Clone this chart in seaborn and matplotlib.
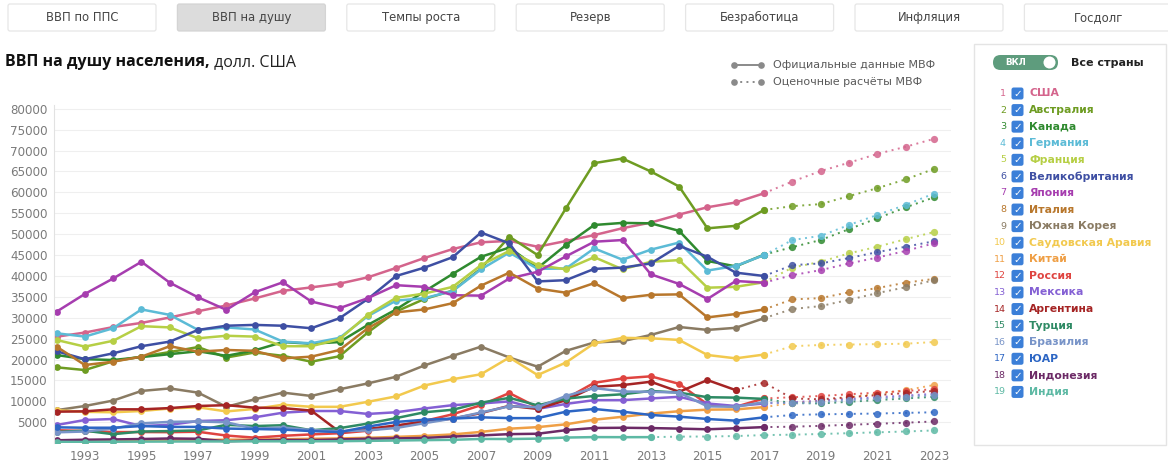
import numpy as np
import pandas as pd
import matplotlib
matplotlib.use("Agg")
import matplotlib.pyplot as plt
import seaborn as sns
from matplotlib.patches import FancyBboxPatch, Rectangle, Circle

# ---------------- data ----------------
years = list(range(1992, 2024))

tabs = ["ВВП по ППС", "ВВП на душу", "Темпы роста", "Резерв", "Безработица", "Инфляция", "Госдолг"]
selected_tab = "ВВП на душу"

countries = ["США", "Австралия", "Канада", "Германия", "Франция", "Великобритания", "Япония",
             "Италия", "Южная Корея", "Саудовская Аравия", "Китай", "Россия", "Мексика",
             "Аргентина", "Турция", "Бразилия", "ЮАР", "Индонезия", "Индия"]

usa = [25470, 26470, 27780, 28780, 30070, 31570, 32950, 34620, 36450, 37270, 38170, 39680, 41930, 44310,
       46440, 48060, 48400, 47000, 48370, 49780, 51430, 52780, 54700, 56440, 57590, 59790,
       62600, 65100, 67100, 69200, 70900, 72800]
australia = [18150, 17500, 19600, 20700, 21800, 23000, 20500, 21700, 20900, 19500, 20800, 26500, 31500,
             34500, 36500, 41800, 49400, 45000, 56200, 67000, 68100, 65000, 61400, 51400, 52000, 55800,
             56700, 57200, 59100, 61000, 63100, 65600]
canada = [21100, 20100, 19900, 20600, 21300, 22000, 20900, 22200, 24200, 23800, 24200, 28300, 32000,
          36300, 40500, 44600, 46800, 41900, 47400, 52200, 52700, 52600, 50800, 43600, 42300, 45100,
          46900, 48600, 51200, 53800, 56400, 58800]
germany = [26300, 25500, 27500, 32000, 30700, 27100, 27700, 27200, 24300, 23900, 25200, 30400, 34100,
           34700, 36400, 41600, 45600, 41700, 41800, 46600, 43900, 46300, 48000, 41300, 42400, 45000,
           48600, 49600, 52200, 54600, 57000, 59700]
france = [24700, 23100, 24500, 28000, 27700, 25100, 25700, 25500, 23200, 23200, 24900, 30700, 34800,
          35800, 37400, 42600, 46000, 42600, 41600, 44500, 41600, 43400, 43800, 37200, 37400, 38500,
          42000, 43400, 45400, 47000, 48800, 50500]
uk = [22000, 20100, 21500, 23200, 24300, 27100, 28100, 28300, 28100, 27500, 29900, 34500, 40000, 42000,
      44500, 50400, 47800, 38700, 39000, 41700, 42000, 43000, 47200, 44600, 40800, 40000,
      42600, 43000, 44300, 45700, 47000, 48300]
japan = [31460, 35700, 39400, 43400, 38400, 34900, 31900, 36100, 38500, 33900, 32300, 34700, 37800, 37400,
         35400, 35300, 39400, 41000, 44700, 48200, 48600, 40400, 38100, 34500, 38800, 38400,
         40200, 41400, 43000, 44400, 46000, 47800]
italy = [23100, 18700, 19500, 20700, 23200, 21900, 22300, 22100, 20300, 20700, 22300, 27500, 31300, 32000,
         33500, 37700, 40800, 37000, 36000, 38300, 34700, 35500, 35600, 30100, 30900, 32000,
         34400, 34700, 36100, 37100, 38400, 39300]
korea = [7900, 8900, 10200, 12500, 13100, 12100, 8700, 10500, 12100, 11300, 12900, 14300, 15900, 18600,
         20900, 23100, 20500, 18300, 22100, 24100, 24400, 25900, 27800, 27100, 27600, 29900,
         32100, 32800, 34300, 35900, 37300, 39000]
saudi = [7900, 7500, 7400, 7700, 8300, 8600, 7600, 8200, 9200, 8700, 8700, 9900, 11200, 13800, 15300,
         16500, 20500, 16300, 19300, 23900, 25200, 25100, 24700, 21100, 20300, 21200,
         23200, 23500, 23600, 23700, 23800, 24200]
china = [370, 380, 470, 610, 710, 780, 830, 870, 960, 1050, 1150, 1290, 1510, 1750, 2100, 2700, 3470,
         3840, 4520, 5610, 6320, 7080, 7650, 8030, 8080, 8640, 9630, 10150, 10950, 11800, 12700, 13900]
russia = [3100, 2930, 2660, 2670, 2640, 2740, 1830, 1330, 1770, 2100, 2380, 2980, 4100, 5320, 6920, 9100,
          12000, 8560, 10670, 14450, 15500, 16000, 14200, 9300, 8700, 10700,
          11000, 11300, 11700, 12100, 12500, 12900]
mexico = [4350, 5550, 5790, 4100, 4400, 5300, 5500, 6190, 7300, 7700, 7700, 7000, 7400, 8300, 9100, 9500,
          10000, 8200, 9400, 10300, 10300, 10700, 11100, 9500, 8900, 9500,
          9800, 10200, 10600, 11000, 11400, 11800]
argentina = [7540, 7620, 8100, 8100, 8400, 8900, 9100, 8500, 8400, 7800, 2700, 3400, 4250, 5100, 5900,
             7200, 8950, 8200, 10300, 13500, 13900, 14700, 12300, 15100, 12700, 14500,
             10700, 10500, 11000, 11500, 12000, 12500]
turkey = [2700, 3000, 2150, 2800, 2900, 3060, 4400, 4100, 4300, 3100, 3600, 4700, 6000, 7400, 8000, 9700,
          10850, 9050, 10670, 11300, 11700, 12500, 12100, 11000, 10900, 10600,
          9600, 9500, 9900, 10300, 10700, 11100]
brazil = [2600, 2800, 3500, 4750, 5100, 5200, 5000, 3500, 3750, 3150, 2850, 3070, 3640, 4790, 5890, 7350,
          8830, 8600, 11300, 13200, 12370, 12300, 12110, 8810, 8710, 9820,
          9500, 9800, 10300, 10700, 11100, 11500]
south_africa = [3800, 3700, 3700, 4100, 3900, 3900, 3500, 3400, 3250, 2900, 2660, 3960, 5080, 5610, 5880,
                6190, 6000, 6000, 7540, 8180, 7540, 6750, 6350, 5790, 5390, 6190,
                6750, 6900, 7000, 7100, 7250, 7400]
indonesia = [700, 830, 900, 1000, 1130, 1060, 460, 680, 790, 740, 900, 1060, 1150, 1260, 1590, 1860, 2170,
             2260, 3120, 3640, 3690, 3620, 3490, 3330, 3570, 3850, 3950, 4150, 4400, 4650, 4900, 5200]
india = [330, 300, 350, 380, 400, 420, 420, 450, 450, 460, 480, 560, 640, 730, 810, 1020, 1000, 1090, 1350,
         1460, 1440, 1450, 1570, 1600, 1710, 1940, 2040, 2200, 2400, 2600, 2800, 3050]

series = [usa, australia, canada, germany, france, uk, japan, italy, korea, saudi, china, russia, mexico,
          argentina, turkey, brazil, south_africa, indonesia, india]
# last year of official IMF data (later years are IMF estimates)
last_official = [2017, 2017, 2017, 2017, 2017, 2017, 2017, 2017, 2017, 2017, 2017, 2017, 2017,
                 2016, 2017, 2017, 2017, 2017, 2013]

colors = ["#d4648c", "#6e9c22", "#2f8a2f", "#5cbbd6", "#b6cf45", "#3e4fa3", "#a63daf", "#b8772c",
          "#8a7b63", "#f2c94e", "#ef9f45", "#df4440", "#8460d4", "#a52424", "#2e8a64", "#7894c8",
          "#2d66c4", "#6c2a66", "#5db9a4"]

# ---------------- figure ----------------
sns.set_theme(style="white")
plt.rcParams["font.family"] = ["DejaVu Sans"]

W, H = 1168, 462
fig = plt.figure(figsize=(W / 100, H / 100), dpi=100)
fig.patch.set_facecolor("white")

ov = fig.add_axes([0, 0, 1, 1])
ov.set_xlim(0, W)
ov.set_ylim(H, 0)
ov.axis("off")

# plot area in pixels
px_left, px_right, px_top, px_bottom = 53.7, 950.8, 104.6, 443.2
ax = fig.add_axes([px_left / W, (H - px_bottom) / H, (px_right - px_left) / W, (px_bottom - px_top) / H])
ax.set_facecolor("none")

for name, vals, last, c in zip(countries, series, last_official, colors):
    d = pd.DataFrame({"Год": years, "Значение": vals})
    off = d[d["Год"] <= last]
    est = d[d["Год"] >= last]
    sns.lineplot(data=off, x="Год", y="Значение", ax=ax, color=c, marker="o", markersize=4.9,
                 markeredgewidth=0, linewidth=1.8, legend=False, estimator=None)
    sns.lineplot(data=est, x="Год", y="Значение", ax=ax, color=c, marker="o", markersize=5.2,
                 markeredgewidth=0, linewidth=1.4, linestyle=(0, (1, 2.3)), alpha=0.85,
                 legend=False, estimator=None)

ax.set_xlim(1991.9, 2023.6)
ax.set_ylim(0, 81000)
ax.set_xticks(list(range(1993, 2024, 2)))
ax.set_yticks(list(range(5000, 80001, 5000)))
ax.set_yticklabels([str(v) for v in range(5000, 80001, 5000)])
ax.set_xlabel("")
ax.set_ylabel("")
ax.tick_params(axis="both", length=0, labelsize=8.6, labelcolor="#7a7a7a")
ax.tick_params(axis="y", pad=4.5)
ax.tick_params(axis="x", pad=5)
ax.grid(axis="y", color="#efefef", linewidth=0.8)
ax.grid(axis="x", visible=False)
ax.set_axisbelow(True)
for s in ["top", "right", "bottom"]:
    ax.spines[s].set_visible(False)
ax.spines["left"].set_color("#e2e2e2")
ax.spines["left"].set_linewidth(0.8)

# ---------------- tabs ----------------
pitch = 169.4
for i, t in enumerate(tabs):
    x0 = 8 + i * pitch
    sel = (t == selected_tab)
    ov.add_patch(FancyBboxPatch((x0, 4), 148, 27, boxstyle="round,pad=0,rounding_size=2",
                                facecolor="#dcdcdc" if sel else "white",
                                edgecolor="#d4d4d4" if sel else "#e6e6e6", linewidth=0.9))
    ov.text(x0 + 74, 17.5, t, ha="center", va="center", fontsize=8.4, color="#454545")

# ---------------- title ----------------
t1 = ov.text(5, 62, "ВВП на душу населения,", fontsize=11.5, fontweight="bold", color="#111111",
             family=["Open Sans", "DejaVu Sans"], va="center", ha="left")
ov.annotate(" долл. США", xy=(1, 0.5), xycoords=t1, va="center", ha="left", fontsize=11.5,
            color="#222222", family=["Open Sans", "DejaVu Sans"])

# ---------------- series type legend ----------------
for k, (lab, ls) in enumerate([("Официальные данные МВФ", "-"), ("Оценочные расчёты МВФ", (0, (1, 2.2)))]):
    yy = 65 + k * 17
    ov.plot([734, 761], [yy, yy], color="#8a8a8a", linewidth=1.4, linestyle=ls)
    ov.plot([734, 761], [yy, yy], color="#8a8a8a", linestyle="none", marker="o", markersize=4.8,
            markeredgewidth=0)
    ov.text(773, yy, lab, fontsize=8, color="#5a5a5a", va="center", ha="left")

# ---------------- right panel ----------------
ov.add_patch(Rectangle((974, 44), 192, 401, facecolor="white", edgecolor="#e4e4e4", linewidth=1.0))
ov.add_patch(FancyBboxPatch((993, 55), 65, 15, boxstyle="round,pad=0,rounding_size=7.5",
                            facecolor="#5e9c7d", edgecolor="none"))
ov.text(1016, 62.7, "ВКЛ", fontsize=6.3, color="white", fontweight="bold", ha="center", va="center")
ov.add_patch(Circle((1049.5, 62.5), 6, facecolor="white", edgecolor="none"))
ov.text(1071, 62.5, "Все страны", fontsize=8, fontweight="bold", color="#222222", ha="left", va="center")

for i, (name, c) in enumerate(zip(countries, colors)):
    yy = 93.5 + i * 16.58
    ov.text(1006, yy, str(i + 1), fontsize=6.8, color=c, ha="right", va="center")
    ov.add_patch(FancyBboxPatch((1011.5, yy - 6), 12, 12, boxstyle="round,pad=0,rounding_size=2.2",
                                facecolor="#3b7fd8", edgecolor="none"))
    ov.text(1017.5, yy + 0.3, "✓", fontsize=7.5, color="white", fontweight="bold", ha="center", va="center")
    ov.text(1029, yy, name, fontsize=7.8, color=c, fontweight="bold", ha="left", va="center")

fig.savefig("out.png", dpi=100, facecolor="white")
